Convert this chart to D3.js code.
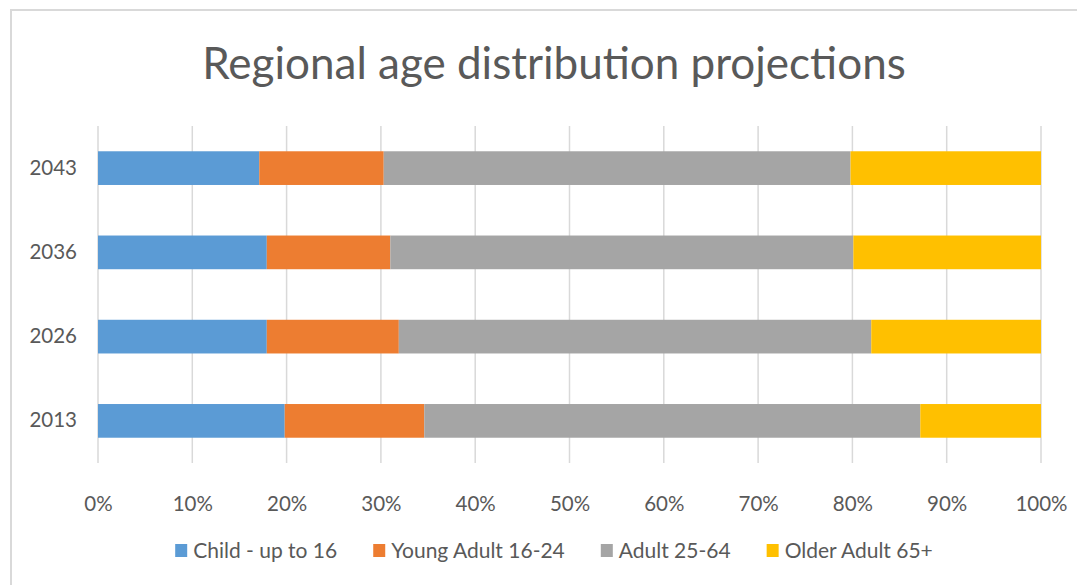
<!DOCTYPE html>
<html>
<head>
<meta charset="utf-8">
<script src="https://cdnjs.cloudflare.com/ajax/libs/d3/7.8.5/d3.min.js"></script>
<style>
  html, body { margin: 0; padding: 0; background: #fff; }
  svg text { font-family: Lato, "Open Sans", sans-serif; fill: #595959; }
</style>
</head>
<body>
<div id="chart"></div>
<script>
// chart values (percent of population)
const years = ["2043", "2036", "2026", "2013"];
const seriesNames = ["Child - up to 16", "Young Adult 16-24", "Adult 25-64", "Older Adult 65+"];
const child = [17.1, 17.9, 17.9, 19.8];
const youngAdult = [13.2, 13.1, 14.0, 14.8];
const adult = [49.5, 49.1, 50.1, 52.6];
const olderAdult = [20.2, 19.9, 18.0, 12.8];
const seriesColors = ["#5B9BD5", "#ED7D31", "#A5A5A5", "#FFC000"];
const xTicks = [0, 0.1, 0.2, 0.3, 0.4, 0.5, 0.6, 0.7, 0.8, 0.9, 1];

const width = 1077, height = 585;
const margin = {top: 126, right: 36, bottom: 122, left: 98};

// rows for d3.stack
const rows = years.map((y, i) => ({
  year: y,
  [seriesNames[0]]: child[i],
  [seriesNames[1]]: youngAdult[i],
  [seriesNames[2]]: adult[i],
  [seriesNames[3]]: olderAdult[i]
}));

const stacked = d3.stack()
    .keys(seriesNames)
    .offset(d3.stackOffsetExpand)(rows);

const svg = d3.select("#chart").append("svg")
    .attr("width", width)
    .attr("height", height);

svg.append("rect")
    .attr("width", width).attr("height", height)
    .attr("fill", "#fff");

// chart frame (only top and left edges are in the shot)
svg.append("rect")
    .attr("x", 11).attr("y", 10)
    .attr("width", width + 20).attr("height", height + 20)
    .attr("fill", "none")
    .attr("stroke", "#d9d9d9")
    .attr("stroke-width", 2);

const x = d3.scaleLinear()
    .domain([0, 1])
    .range([margin.left, width - margin.right]);

const y = d3.scaleBand()
    .domain(years)
    .range([margin.top, height - margin.bottom])
    .paddingInner(0.6)
    .paddingOuter(0.3);

svg.append("text")
    .attr("x", 554)
    .attr("y", 79)
    .attr("text-anchor", "middle")
    .style("font-size", "44px")
    .text("Regional age distribution projections");

// gridlines
svg.append("g")
  .selectAll("line")
  .data(xTicks)
  .join("line")
    .attr("x1", d => x(d)).attr("x2", d => x(d))
    .attr("y1", margin.top).attr("y2", height - margin.bottom)
    .attr("stroke", "#d9d9d9")
    .attr("stroke-width", 1.5);

// bars
svg.append("g")
  .selectAll("g")
  .data(stacked)
  .join("g")
    .attr("fill", (d, i) => seriesColors[i])
  .selectAll("rect")
  .data(d => d)
  .join("rect")
    .attr("x", d => x(d[0]))
    .attr("width", d => x(d[1]) - x(d[0]))
    .attr("y", d => y(d.data.year))
    .attr("height", y.bandwidth());

// x axis labels
const xAxis = svg.append("g")
    .attr("transform", `translate(0,${height - margin.bottom})`)
    .call(d3.axisBottom(x).tickValues(xTicks).tickFormat(d3.format(".0%")).tickSize(0).tickPadding(33));
xAxis.select(".domain").remove();
xAxis.selectAll("text").style("font-size", "20.5px").attr("fill", "#595959");

// y axis labels
const yAxis = svg.append("g")
    .attr("transform", `translate(${margin.left},0)`)
    .call(d3.axisLeft(y).tickSize(0).tickPadding(21));
yAxis.select(".domain").remove();
yAxis.selectAll("text").style("font-size", "20.5px").attr("fill", "#595959");

// legend, centred under the plot
const legend = svg.append("g");
const items = legend.selectAll("g")
  .data(seriesNames)
  .join("g");
items.append("rect")
    .attr("width", 12).attr("height", 13)
    .attr("y", -7)
    .attr("fill", (d, i) => seriesColors[i]);
items.append("text")
    .attr("x", 18)
    .attr("dy", "0.35em")
    .style("font-size", "21px")
    .text(d => d);

let cursor = 0;
items.each(function() {
  const w = 18 + d3.select(this).select("text").node().getComputedTextLength();
  d3.select(this).attr("transform", `translate(${cursor},0)`);
  cursor += w + 36;
});
const total = cursor - 36;
legend.attr("transform", `translate(${554 - total / 2},551)`);
</script>
</body>
</html>
